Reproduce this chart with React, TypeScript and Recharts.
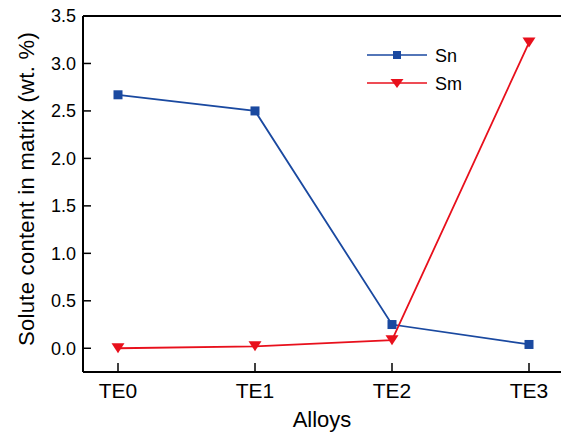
import React from 'react';
import { LineChart, Line, XAxis, YAxis, ReferenceLine, Label } from 'recharts';

const alloys = ['TE0', 'TE1', 'TE2', 'TE3'];
const snValues = [2.67, 2.5, 0.25, 0.04];
const smValues = [0.0, 0.02, 0.085, 3.22];
const yTicks = [0, 0.5, 1, 1.5, 2, 2.5, 3, 3.5];

const BLUE = '#1a49a0';
const RED = '#e8101c';
const FONT = '"Liberation Sans", Arial, sans-serif';

const data = alloys.map((name, i) => ({ name, Sn: snValues[i], Sm: smValues[i] }));

function SquareDot(props: any) {
  const { cx, cy, index } = props;
  if (cx == null || cy == null) return null;
  return <rect key={`sq-${index}`} x={cx - 4.5} y={cy - 4.5} width={9} height={9} fill={BLUE} />;
}

function TriangleDot(props: any) {
  const { cx, cy, index } = props;
  if (cx == null || cy == null) return null;
  return (
    <path
      key={`tri-${index}`}
      d={`M${cx - 6.5},${cy - 5} L${cx + 6.5},${cy - 5} L${cx},${cy + 5} Z`}
      fill={RED}
    />
  );
}

// legend drawn as an overlay, so it does not shift the plot area
function LegendOverlay() {
  const rows = [
    { label: 'Sn', color: BLUE, marker: 'square' },
    { label: 'Sm', color: RED, marker: 'triangle' },
  ];
  return (
    <svg
      width={120}
      height={60}
      style={{ position: 'absolute', left: 365, top: 40, overflow: 'visible' }}
    >
      {rows.map((r, i) => {
        const y = 15 + i * 28;
        return (
          <g key={r.label}>
            <line x1={2} y1={y} x2={62} y2={y} stroke={r.color} strokeWidth={1.5} />
            {r.marker === 'square' ? (
              <rect x={28} y={y - 4} width={8} height={8} fill={r.color} />
            ) : (
              <path d={`M${25.5},${y - 4} L${38.5},${y - 4} L${32},${y + 5} Z`} fill={r.color} />
            )}
            <text x={70} y={y + 6.5} fontFamily={FONT} fontSize={18} fill="#000">
              {r.label}
            </text>
          </g>
        );
      })}
    </svg>
  );
}

export default function App() {
  return (
    <div style={{ position: 'absolute', left: 0, top: 0, width: 561, height: 435, background: '#fff' }}>
      <LineChart width={561} height={435} data={data} margin={{ top: 16, right: 0, left: 0, bottom: 0 }}>
        <XAxis
          dataKey="name"
          height={63}
          padding={{ left: 35, right: 32 }}
          tick={{ fontSize: 21, fill: '#000', fontFamily: FONT }}
          tickSize={-9}
          tickMargin={20}
          tickLine={{ stroke: '#000', strokeWidth: 1.5 }}
          axisLine={{ stroke: '#000', strokeWidth: 2 }}
        >
          <Label
            content={() => (
              <text x={322} y={427} textAnchor="middle" fontFamily={FONT} fontSize={22} fill="#000">
                Alloys
              </text>
            )}
          />
        </XAxis>
        <YAxis
          width={83}
          domain={[-0.25, 3.5]}
          ticks={yTicks}
          allowDataOverflow
          tickFormatter={(v: number) => v.toFixed(1)}
          tick={{ fontSize: 18, fill: '#000', fontFamily: FONT }}
          tickSize={-8}
          tickMargin={15}
          tickLine={{ stroke: '#000', strokeWidth: 1.5 }}
          axisLine={{ stroke: '#000', strokeWidth: 2 }}
        >
          <Label
            content={() => (
              <text
                x={34}
                y={189}
                transform="rotate(-90, 34, 189)"
                textAnchor="middle"
                fontFamily={FONT}
                fontSize={22}
                letterSpacing={0.3}
                fill="#000"
              >
                Solute content in matrix (wt. %)
              </text>
            )}
          />
        </YAxis>
        <ReferenceLine y={3.5} stroke="#000" strokeWidth={2} ifOverflow="visible" />
        <Line
          dataKey="Sn"
          stroke={BLUE}
          strokeWidth={1.8}
          dot={<SquareDot />}
          activeDot={false}
          isAnimationActive={false}
        />
        <Line
          dataKey="Sm"
          stroke={RED}
          strokeWidth={1.8}
          dot={<TriangleDot />}
          activeDot={false}
          isAnimationActive={false}
        />
      </LineChart>
      <LegendOverlay />
    </div>
  );
}
